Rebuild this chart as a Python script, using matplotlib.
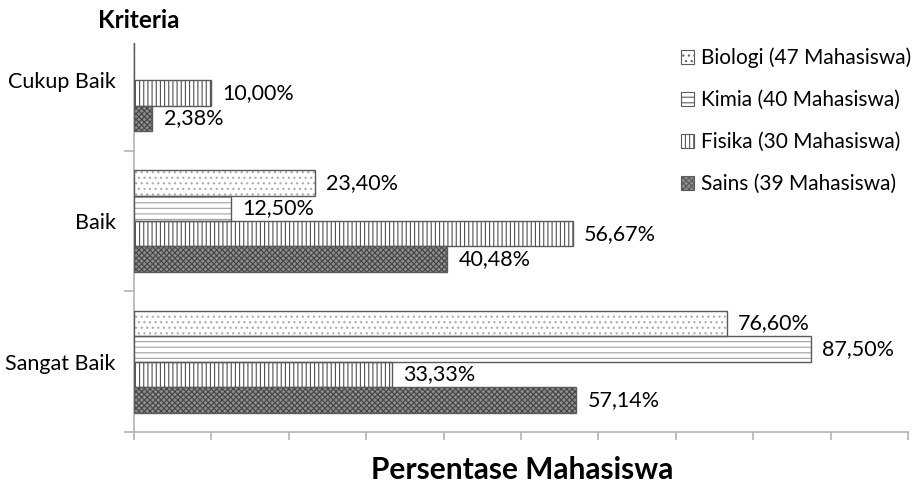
import matplotlib
matplotlib.use("Agg")
import matplotlib.pyplot as plt
import numpy as np
from matplotlib.patches import Patch

plt.rcParams['font.family'] = ['Lato', 'DejaVu Sans']
plt.rcParams['hatch.linewidth'] = 0.8

categories = ["Sangat Baik", "Baik", "Cukup Baik"]
series = ["Biologi (47 Mahasiswa)", "Kimia (40 Mahasiswa)",
          "Fisika (30 Mahasiswa)", "Sains (39 Mahasiswa)"]
biologi = [76.60, 23.40, 0.0]
kimia = [87.50, 12.50, 0.0]
fisika = [33.33, 56.67, 10.00]
sains = [57.14, 40.48, 2.38]
values = [biologi, kimia, fisika, sains]

styles = [
    dict(fc="white", hatch="...", hc="#a8a8a8"),
    dict(fc="white", hatch="---", hc="#a0a0a0"),
    dict(fc="white", hatch="||||", hc="#505050"),
    dict(fc="#8e8e8e", hatch="xxxxxx", hc="#444444"),
]
offsets = [1.5, 0.5, -0.5, -1.5]
h = 0.181
outline = "#5a5a5a"
axis_col = "#b3b3b3"

fig = plt.figure(figsize=(9.13, 4.84), dpi=100)
ax = fig.add_axes([134/913, 1-432/484, (908-134)/913, (432-10)/484])

y = np.arange(len(categories))
fs = 15.5
for vals, st, off in zip(values, styles, offsets):
    pos = y + off * h
    ax.barh(pos, vals, height=h, color=st["fc"], hatch=st["hatch"],
            edgecolor=st["hc"], linewidth=0, zorder=2)
    ax.barh(pos, vals, height=h, fill=False, edgecolor=outline,
            linewidth=1.0, zorder=3)
    for p, v in zip(pos, vals):
        if v > 0:
            ax.annotate(f"{v:.2f}%".replace(".", ","), (v, p),
                        xytext=(8, 0), textcoords="offset points",
                        va="center", ha="left", fontsize=fs, color="black")

ax.set_xlim(0, 100)
ax.set_ylim(-0.5, 2.5)
ax.set_xticks(np.arange(0, 101, 10))
ax.set_xticklabels([])
ax.set_yticks(y)
ax.set_yticklabels(categories, fontsize=fs)
ax.set_yticks(np.arange(-0.5, 2.6, 1.0), minor=True)
ax.tick_params(axis="y", which="major", length=0, pad=13)
ax.tick_params(axis="y", which="minor", length=7, color=axis_col, width=1.2)
ax.tick_params(axis="x", length=6, color=axis_col, width=1.2)
for s in ["top", "right"]:
    ax.spines[s].set_visible(False)
for s in ["left", "bottom"]:
    ax.spines[s].set_color(axis_col)
    ax.spines[s].set_linewidth(1.2)

fig.text(522/913, 1-470/484, "Persentase Mahasiswa", ha="center", va="center",
         fontsize=21.5, fontweight="bold")
fig.text(98/913, 1-20/484, "Kriteria", ha="left", va="center",
         fontsize=17.5, fontweight="bold",
         bbox=dict(facecolor="white", edgecolor="none", pad=8), zorder=10)

handles = [Patch(facecolor=st["fc"], hatch=st["hatch"], edgecolor=outline,
                 linewidth=0.8) for st in styles]
leg = ax.legend(handles, series, loc="upper right", bbox_to_anchor=(1.02, 0.94),
                frameon=False, fontsize=15, handlelength=0.65, handleheight=0.65,
                handletextpad=0.3, labelspacing=1.05, borderaxespad=0.2)

fig.savefig("out.png", dpi=100)
